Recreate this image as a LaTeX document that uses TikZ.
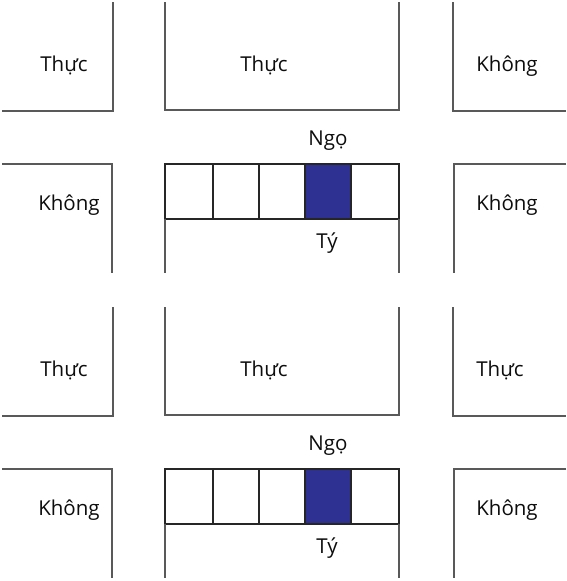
\documentclass[tikz,border=0pt]{standalone}
\usepackage{fontspec}
\setmainfont{Open Sans}
\usepackage{tikz}
\usetikzlibrary{positioning}

\definecolor{ngoblue}{HTML}{2E3192}
\tikzset{
  wall/.style={draw=black!65, line width=1.2pt},
  strip/.style={draw=black!85, line width=1.2pt},
  lbl/.style={anchor=base, inner sep=0pt, font=\fontsize{20.5}{22}\selectfont, text=black!95}
}

\begin{document}
\begin{tikzpicture}[x=1pt, y=-1pt]
  \useasboundingbox (0,0) rectangle (566,581);
  \foreach \dy/\i/\lr/\lx in {0/1/Không/507, 305/2/Thực/500} {
    \begin{scope}[yshift=-\dy pt]
      % upper blocks
      \draw[wall] (113,2) -- (113,111) -- (2,111);
      \draw[wall] (165,2) -- (165,110) -- (399,110) -- (399,2);
      \draw[wall] (453,2) -- (453,111) -- (566,111);
      \node[lbl] (thucL\i) at (64,71) {Thực};
      \node[lbl] (thucM\i) at (264,71) {Thực};
      \node[lbl] (upR\i) at (\lx,71) {\lr};

      % street row
      \node[lbl] (ngo\i) at (328,145) {Ngọ};
      \draw[wall] (2,164) -- (112,164) -- (112,273);
      \draw[wall] (566,164) -- (454,164) -- (454,273);
      \node[lbl] (khongL\i) at (69,210) {Không};
      \node[lbl] (khongR\i) at (507,210) {Không};

      % strip of cells
      \fill[ngoblue] (305,164) rectangle (351,219);
      \draw[strip] (165,164) rectangle (399,219);
      \foreach \cx in {213,259,305,351}
        \draw[strip] (\cx,164) -- (\cx,219);
      \draw[wall] (165,219) -- (165,273);
      \draw[wall] (399,219) -- (399,273);
      \node[lbl] (ty\i) at (327,248) {Tý};
    \end{scope}
  }
\end{tikzpicture}
\end{document}
